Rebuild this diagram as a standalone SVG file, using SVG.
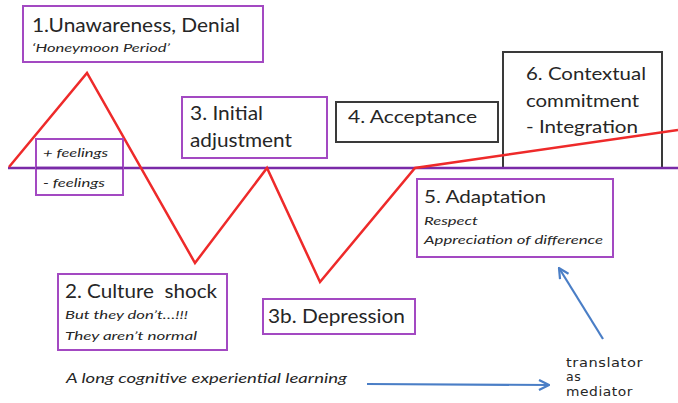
<svg xmlns="http://www.w3.org/2000/svg" width="678" height="403" viewBox="0 0 678 403">
<defs>
<style>
.pbox{fill:#fff;stroke:#a349c2;stroke-width:2}
.kbox{fill:#fff;stroke:#3a3a3a;stroke-width:2}
.t{font-family:Lato,"Open Sans","Liberation Sans",sans-serif;fill:#262626}
.big{font-size:19px}
.it{font-style:italic;font-size:12px}
.red{fill:none;stroke:#ee2a2a;stroke-width:2.5;stroke-linejoin:miter}
.axis{stroke:#7a2aa8;stroke-width:2.5}
.blue{fill:none;stroke:#4a7ec6;stroke-width:2.2}
.mono{font-family:"DejaVu Sans",sans-serif;font-size:12.5px;fill:#262626;letter-spacing:0.5px}
</style>
<marker id="ah" viewBox="0 0 12 12" refX="11" refY="6" markerWidth="12" markerHeight="12" markerUnits="userSpaceOnUse" orient="auto">
<path d="M1,1 L11,6 L1,11" fill="none" stroke="#4a7ec6" stroke-width="2.2"/>
</marker>
</defs>
<rect width="678" height="403" fill="#fff"/>

<g id="node-6">
<rect class="kbox" x="503" y="52" width="159" height="116"/>
<text class="t" x="526" y="80" font-size="18" textLength="120" lengthAdjust="spacingAndGlyphs">6. Contextual</text>
<text class="t" x="526" y="107" font-size="18" textLength="113" lengthAdjust="spacingAndGlyphs">commitment</text>
<text class="t" x="526" y="133" font-size="18" textLength="112" lengthAdjust="spacingAndGlyphs">- Integration</text>
</g>

<g id="connectors">
<line class="axis" x1="8" y1="168" x2="678" y2="168"/>
<polyline class="red" points="9,167 87,73 195,263 267,168 320,282 415,168 678,130"/>
<line class="blue" x1="367" y1="384" x2="549" y2="385" marker-end="url(#ah)"/>
<line class="blue" x1="603" y1="339" x2="559" y2="268" marker-end="url(#ah)"/>
</g>

<g id="node-feelings">
<rect x="36" y="139" width="87" height="56" fill="none" stroke="#a349c2" stroke-width="2"/>
<line class="axis" x1="36" y1="168" x2="123" y2="168"/>
<text class="t it" x="43" y="157" textLength="65" lengthAdjust="spacingAndGlyphs">+ feelings</text>
<text class="t it" x="43" y="187" textLength="62" lengthAdjust="spacingAndGlyphs">- feelings</text>
</g>

<g id="node-1">
<rect class="pbox" x="23" y="6" width="240" height="56"/>
<text class="t" x="32" y="32" font-size="20" textLength="208" lengthAdjust="spacingAndGlyphs">1.Unawareness, Denial</text>
<text class="t it" x="32" y="52" textLength="138" lengthAdjust="spacingAndGlyphs">‘Honeymoon Period’</text>
</g>

<g id="node-3">
<rect class="pbox" x="182" y="97" width="145" height="61"/>
<text class="t big" x="190" y="120" textLength="73" lengthAdjust="spacingAndGlyphs">3. Initial</text>
<text class="t big" x="190" y="147" textLength="102" lengthAdjust="spacingAndGlyphs">adjustment</text>
</g>

<g id="node-4">
<rect class="kbox" x="336" y="102" width="162" height="40"/>
<text class="t" x="348" y="123" font-size="18" textLength="129" lengthAdjust="spacingAndGlyphs">4. Acceptance</text>
</g>

<g id="node-5">
<rect class="pbox" x="417" y="179" width="196" height="78"/>
<text class="t" x="424" y="203" font-size="18" textLength="122" lengthAdjust="spacingAndGlyphs">5. Adaptation</text>
<text class="t it" x="424" y="225" textLength="54" lengthAdjust="spacingAndGlyphs">Respect</text>
<text class="t it" x="424" y="244" textLength="179" lengthAdjust="spacingAndGlyphs">Appreciation of difference</text>
</g>

<g id="node-2">
<rect class="pbox" x="58" y="274" width="169" height="76"/>
<text class="t big" x="65" y="298" textLength="152" lengthAdjust="spacingAndGlyphs" style="white-space:pre">2. Culture  shock</text>
<text class="t it" x="65" y="319" textLength="123" lengthAdjust="spacingAndGlyphs">But they don’t…!!!</text>
<text class="t it" x="65" y="340" textLength="132" lengthAdjust="spacingAndGlyphs">They aren’t normal</text>
</g>

<g id="node-3b">
<rect class="pbox" x="263" y="299" width="152" height="35"/>
<text class="t" x="268" y="323" font-size="20" textLength="137" lengthAdjust="spacingAndGlyphs">3b. Depression</text>
</g>

<g id="label-learning">
<text class="t" x="66" y="383" font-size="14" font-style="italic" textLength="281" lengthAdjust="spacingAndGlyphs">A long cognitive experiential learning</text>
</g>

<g id="label-translator">
<text class="mono" x="566" y="367" textLength="77" lengthAdjust="spacingAndGlyphs">translator</text>
<text class="mono" x="566" y="381">as</text>
<text class="mono" x="566" y="396" textLength="67" lengthAdjust="spacingAndGlyphs">mediator</text>
</g>
</svg>
